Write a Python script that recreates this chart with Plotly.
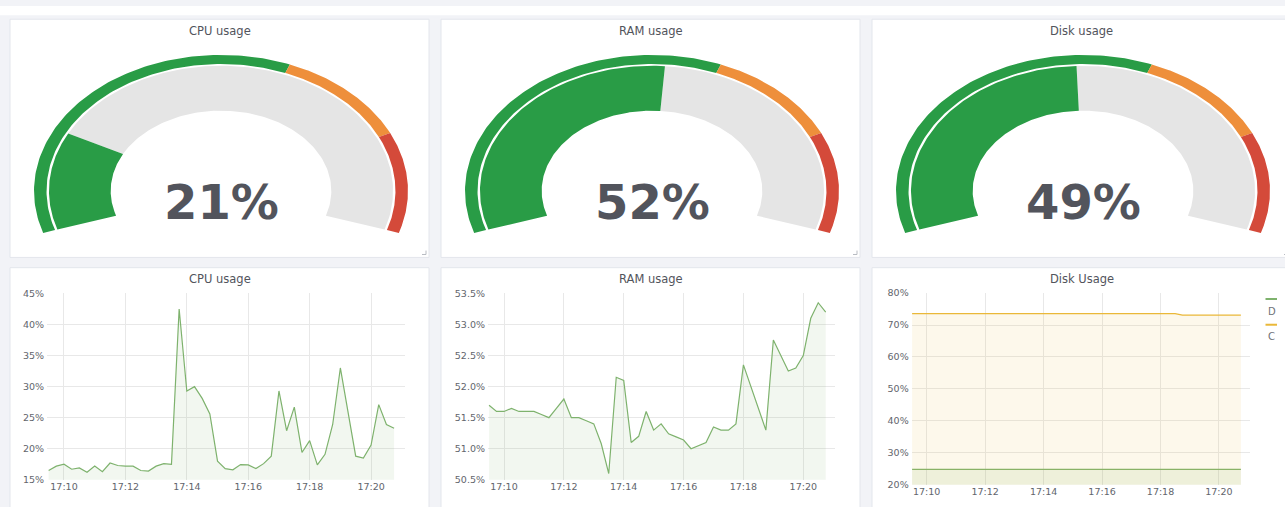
import numpy as np
import pandas as pd
import plotly.graph_objects as go

W, H = 1285, 507

# ---------------- data ----------------
GAUGE_TITLES = ["CPU usage", "RAM usage", "Disk usage"]
GAUGE_VALUES = [21, 52, 49]
GAUGE_THRESHOLDS = [60, 80]
GAUGE_MAX = 100

CHART_TITLES = ["CPU usage", "RAM usage", "Disk Usage"]
START_TIME = "2019-06-01 17:09:30"
STEP = "15s"

cpu_usage = [16.5, 17.2, 17.5, 16.7, 16.9, 16.2, 17.2, 16.3, 17.7, 17.3,
             17.2, 17.2, 16.5, 16.4, 17.2, 17.6, 17.5, 42.5, 29.3, 30.0,
             28.1, 25.6, 18.0, 16.8, 16.6, 17.45, 17.4, 16.8, 17.6, 18.8,
             29.3, 22.9, 26.7, 19.4, 21.3, 17.4, 19.1, 23.9, 33.0, 26.0,
             18.8, 18.5, 20.6, 27.1, 23.9, 23.3]

ram_usage = [51.7, 51.6, 51.6, 51.65, 51.6, 51.6, 51.6, 51.55, 51.5, 51.65,
             51.8, 51.5, 51.5, 51.45, 51.4, 51.08, 50.6, 52.15, 52.1, 51.1,
             51.2, 51.6, 51.3, 51.4, 51.24, 51.19, 51.14, 51.0, 51.05, 51.1,
             51.35, 51.3, 51.3, 51.4, 52.35, 52.0, 51.65, 51.3, 52.75, 52.5,
             52.25, 52.3, 52.5, 53.1, 53.35, 53.2]

disk_d = [24.8, 24.8, 24.8, 24.8, 24.8, 24.8, 24.8, 24.8, 24.8, 24.8,
          24.8, 24.8, 24.8, 24.8, 24.8, 24.8, 24.8, 24.8, 24.8, 24.8,
          24.8, 24.8, 24.8, 24.8, 24.8, 24.8, 24.8, 24.8, 24.8, 24.8,
          24.8, 24.8, 24.8, 24.8, 24.8, 24.8, 24.8, 24.8, 24.8, 24.8,
          24.8, 24.8, 24.8, 24.8, 24.8, 24.8]

disk_c = [73.6, 73.6, 73.6, 73.6, 73.6, 73.6, 73.6, 73.6, 73.6, 73.6,
          73.6, 73.6, 73.6, 73.6, 73.6, 73.6, 73.6, 73.6, 73.6, 73.6,
          73.6, 73.6, 73.6, 73.6, 73.6, 73.6, 73.6, 73.6, 73.6, 73.6,
          73.6, 73.6, 73.6, 73.6, 73.6, 73.6, 73.6, 73.1, 73.1, 73.1,
          73.1, 73.1, 73.1, 73.1, 73.1, 73.1]

times = pd.date_range(START_TIME, periods=len(cpu_usage), freq=STEP)

# ---------------- styles ----------------
BG = "#f2f3f7"
PANEL_BORDER = "#e3e6ec"
TEXT = "#52545c"
TICK = "#62656c"
GRID = "#e8e8e8"
FONT = "DejaVu Sans"
G_GREEN = "#299c46"
G_ORANGE = "#ee8f3b"
G_RED = "#d44a3a"
G_GRAY = "#e5e5e5"
LINE_GREEN = "#7eb26d"
LINE_YELLOW = "#eab839"


def px(x):
    return x / W


def py(y):
    return 1 - y / H


fig = go.Figure()
shapes = []
annotations = []

# top white strip
shapes.append(dict(type="rect", xref="paper", yref="paper", x0=0, x1=1,
                   y0=py(9.5), y1=1, fillcolor="white", line=dict(width=0),
                   layer="below"))

# ---------------- panels ----------------
top_panels = [(10, 429), (441, 860), (872, 1291)]
for (x0, x1) in top_panels:
    shapes.append(dict(type="rect", xref="paper", yref="paper",
                       x0=px(x0), x1=px(x1), y0=py(257), y1=py(13.5),
                       fillcolor="white", line=dict(color=PANEL_BORDER, width=1),
                       layer="below"))
    # resize handle
    shapes.append(dict(type="path", xref="paper", yref="paper",
                       path=f"M {px(x1-7)} {py(254)} L {px(x1-3)} {py(254)} L {px(x1-3)} {py(250)}",
                       line=dict(color="#b9bcc2", width=1)))
for (x0, x1) in top_panels:
    shapes.append(dict(type="rect", xref="paper", yref="paper",
                       x0=px(x0), x1=px(x1), y0=py(530), y1=py(267.5),
                       fillcolor="white", line=dict(color=PANEL_BORDER, width=1),
                       layer="below"))

# ---------------- gauges ----------------
SPAN = 216.0                      # 0.9*pi .. 2.1*pi arc
START_ANG = 90 + SPAN / 2


def ang(v):
    return np.radians(START_ANG - v / GAUGE_MAX * SPAN)


def sector(v0, v1, r0, r1, n=120):
    t = np.linspace(ang(v0), ang(v1), n)
    xs = np.concatenate([r1 * np.cos(t), r0 * np.cos(t[::-1])])
    ys = np.concatenate([r1 * np.sin(t), r0 * np.sin(t[::-1])])
    return np.append(xs, xs[0]), np.append(ys, ys[0])


R_TH_OUT, R_TH_IN = 1.0, 0.933
R_V_OUT, R_V_IN = 0.92, 0.59
A_PX, B_PX, CY = 187.0, 139.0, 189.0
XR = [-1.05, 1.05]
YR = [-0.5, 1.05]

th_bounds = [0] + GAUGE_THRESHOLDS + [GAUGE_MAX]
th_colors = [G_GREEN, G_ORANGE, G_RED]

for i, (val, (p0, p1)) in enumerate(zip(GAUGE_VALUES, top_panels)):
    cx = (p0 + p1) / 2 + 1.5
    xa = "x" if i == 0 else f"x{i+1}"
    ya = "y" if i == 0 else f"y{i+1}"
    xkey = "xaxis" if i == 0 else f"xaxis{i+1}"
    ykey = "yaxis" if i == 0 else f"yaxis{i+1}"
    dom_x = [px(cx + XR[0] * A_PX), px(cx + XR[1] * A_PX)]
    dom_y = [py(CY - YR[0] * B_PX), py(CY - YR[1] * B_PX)]
    fig.layout[xkey] = dict(domain=dom_x, range=XR, autorange=False, visible=False,
                            fixedrange=True, anchor=ya)
    fig.layout[ykey] = dict(domain=dom_y, range=YR, autorange=False, visible=False,
                            fixedrange=True, anchor=xa)

    # threshold ring
    for (a, b), col in zip(zip(th_bounds[:-1], th_bounds[1:]), th_colors):
        xs, ys = sector(a, b, R_TH_IN, R_TH_OUT)
        fig.add_trace(go.Scatter(x=xs, y=ys, xaxis=xa, yaxis=ya, mode="lines",
                                 fill="toself", fillcolor=col, line=dict(width=0),
                                 hoverinfo="skip", showlegend=False))
    # value ring
    xs, ys = sector(val, GAUGE_MAX, R_V_IN, R_V_OUT)
    fig.add_trace(go.Scatter(x=xs, y=ys, xaxis=xa, yaxis=ya, mode="lines",
                             fill="toself", fillcolor=G_GRAY, line=dict(width=0),
                             hoverinfo="skip", showlegend=False))
    vcol = th_colors[sum(val >= t for t in GAUGE_THRESHOLDS)]
    xs, ys = sector(0, val, R_V_IN, R_V_OUT)
    fig.add_trace(go.Scatter(x=xs, y=ys, xaxis=xa, yaxis=ya, mode="lines",
                             fill="toself", fillcolor=vcol, line=dict(width=0),
                             hoverinfo="skip", showlegend=False))
    annotations.append(dict(x=0, y=-0.08, xref=xa, yref=ya, text=f"{val}%",
                            showarrow=False, xanchor="center", yanchor="middle",
                            font=dict(family=FONT, size=48, color=TEXT, weight="bold")))
    annotations.append(dict(x=px((p0 + p1) / 2), y=py(25.5), xref="paper", yref="paper",
                            text=GAUGE_TITLES[i], showarrow=False,
                            xanchor="center", yanchor="middle",
                            font=dict(family=FONT, size=11.5, color=TEXT)))

# ---------------- time series ----------------
charts = [
    dict(series=[("CPU", cpu_usage, LINE_GREEN, "rgba(126,178,109,0.10)")],
         xdom=(47, 405), ydom=(293.8, 484.3),
         xr=("2019-06-01 17:09:26.8", "2019-06-01 17:21:06.3"),
         yr=[15, 45], dtick=5, fmt="d"),
    dict(series=[("RAM", ram_usage, LINE_GREEN, "rgba(126,178,109,0.10)")],
         xdom=(488, 835), ydom=(293.8, 484.3),
         xr=("2019-06-01 17:09:27.9", "2019-06-01 17:21:03.6"),
         yr=[50.5, 53.5], dtick=0.5, fmt=".1f"),
    dict(series=[("D", disk_d, LINE_GREEN, "rgba(126,178,109,0.12)"),
                 ("C", disk_c, LINE_YELLOW, "rgba(234,184,57,0.10)")],
         xdom=(911.7, 1250), ydom=(293.5, 489.3),
         xr=("2019-06-01 17:09:29.2", "2019-06-01 17:21:03.7"),
         yr=[20, 80], dtick=10, fmt="d"),
]

for j, ch in enumerate(charts):
    k = j + 4
    xa, ya = f"x{k}", f"y{k}"
    fig.layout[f"xaxis{k}"] = dict(
        domain=[px(ch["xdom"][0]), px(ch["xdom"][1])], range=list(ch["xr"]),
        type="date", anchor=ya, dtick=120000, tick0="2019-06-01 17:10:00",
        tickformat="%H:%M", showgrid=True, gridcolor=GRID, gridwidth=1,
        zeroline=False, showline=False, ticks="", fixedrange=True,
        tickfont=dict(family=FONT, size=9.5, color=TICK))
    fig.layout[f"yaxis{k}"] = dict(
        domain=[py(ch["ydom"][1]), py(ch["ydom"][0])], range=ch["yr"],
        anchor=xa, dtick=ch["dtick"], tick0=ch["yr"][0], tickformat=ch["fmt"],
        ticksuffix="%", showgrid=True, gridcolor=GRID, gridwidth=1,
        zeroline=False, showline=False, ticks="", fixedrange=True,
        ticklabelstandoff=2,
        tickfont=dict(family=FONT, size=9.5, color=TICK))
    for name, vals, col, fcol in ch["series"]:
        fig.add_trace(go.Scatter(x=times, y=vals, xaxis=xa, yaxis=ya, name=name,
                                 mode="lines", line=dict(color=col, width=1.2),
                                 fill="tozeroy", fillcolor=fcol,
                                 hoverinfo="skip", showlegend=False))
    p0, p1 = top_panels[j]
    annotations.append(dict(x=px((p0 + p1) / 2), y=py(279), xref="paper", yref="paper",
                            text=CHART_TITLES[j], showarrow=False,
                            xanchor="center", yanchor="middle",
                            font=dict(family=FONT, size=11.5, color=TEXT)))

# disk legend (right side, Grafana style: swatch above label)
legend_items = [("D", LINE_GREEN, 299.5, 312), ("C", LINE_YELLOW, 325.8, 338)]
for name, col, ysw, ytx in legend_items:
    shapes.append(dict(type="line", xref="paper", yref="paper",
                       x0=px(1265.5), x1=px(1277), y0=py(ysw), y1=py(ysw),
                       line=dict(color=col, width=2)))
    annotations.append(dict(x=px(1266), y=py(ytx), xref="paper", yref="paper",
                            text=name, showarrow=False, xanchor="left", yanchor="middle",
                            font=dict(family=FONT, size=10, color="#6f7278")))

fig.update_layout(
    width=W, height=H, margin=dict(l=0, r=0, t=0, b=0),
    paper_bgcolor=BG, plot_bgcolor="rgba(0,0,0,0)",
    shapes=shapes, annotations=annotations, showlegend=False,
)

fig.write_html("out.html", config={"displayModeBar": False},
               post_script="document.body.style.margin='0px';"
                           "document.documentElement.style.overflow='hidden';")
